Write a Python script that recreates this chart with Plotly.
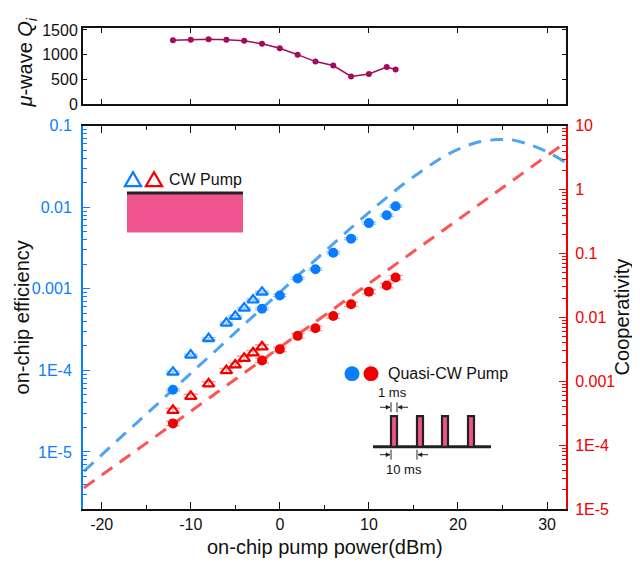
import plotly.graph_objects as go

# ---------------- data ----------------
qi_power = [-12, -10, -8, -6, -4, -2, 0, 2, 4, 6, 8, 10, 12, 13]
qi_values = [1290, 1300, 1310, 1300, 1280, 1220, 1130, 1000, 860, 780, 560, 610, 750, 700]

cw_power = [-12, -10, -8, -6, -5, -4, -3, -2]
cw_eff = [9.5e-5, 1.54e-4, 2.45e-4, 3.8e-4, 4.6e-4, 5.8e-4, 7.3e-4, 9.1e-4]
cw_coop = [3.5e-4, 5.8e-4, 9.1e-4, 1.47e-3, 1.8e-3, 2.28e-3, 2.79e-3, 3.45e-3]

qcw_power = [-12, -2, 0, 2, 4, 6, 8, 10, 12, 13]
qcw_eff = [5.8e-5, 5.7e-4, 8.3e-4, 1.34e-3, 1.74e-3, 2.77e-3, 4.13e-3, 6.4e-3, 8.0e-3, 1.03e-2]
qcw_coop = [2.19e-4, 2.11e-3, 3.17e-3, 5.14e-3, 6.76e-3, 1.05e-2, 1.61e-2, 2.53e-2, 3.16e-2, 4.2e-2]

# theory curves (dashed)
eff_fit_power = [-22, -19, -16, -13, -10, -7, -4, -1, 2, 5, 8, 11, 14, 16, 18, 20, 22, 24, 25, 26, 28, 30, 32]
eff_fit_values = [5.8e-6, 1.16e-5, 2.31e-5, 4.6e-5, 9.2e-5, 1.83e-4, 3.66e-4, 7.2e-4, 1.44e-3, 2.85e-3,
                  5.58e-3, 1.07e-2, 1.97e-2, 2.82e-2, 3.95e-2, 5.15e-2, 6.18e-2, 6.74e-2, 6.8e-2, 6.73e-2,
                  5.9e-2, 4.8e-2, 3.6e-2]
coop_fit_power = [-22, 32]
coop_fit_values = [2.14e-5, 5.37]

eff_tickvals = [1e-5, 1e-4, 1e-3, 1e-2, 1e-1]
eff_ticktext = ["1E-5", "1E-4", "0.001", "0.01", "0.1"]
coop_tickvals = [1e-5, 1e-4, 1e-3, 1e-2, 1e-1, 1, 10]
coop_ticktext = ["1E-5", "1E-4", "0.001", "0.01", "0.1", "1", "10"]

# ---------------- styling ----------------
OFF = 8  # page body margin
W, H = 640 - OFF, 565 - OFF
# plot area in window pixels: x 83..566, y 121(22)..509
ML, MT = 83 - OFF, 22 - OFF
MR = W - (566 - OFF)
MB = H - (509 - OFF)
PW, PH = W - ML - MR, H - MT - MB
FONT = "Liberation Sans, Arial, sans-serif"
BLUE = "#0a7cff"
RED = "#f00000"
BLUE_L = "rgba(60,150,255,0.55)"
RED_L = "rgba(255,70,70,0.55)"
PINK = "#f0548f"
MAGENTA = "#a10c5f"
DARK = "#222222"


def xp(px):
    return (px - OFF - ML) / PW


def yp(py):
    return (H - MB - (py - OFF)) / PH


fig = go.Figure()

# top panel
fig.add_trace(go.Scatter(x=qi_power, y=qi_values, xaxis="x2", yaxis="y3", mode="lines+markers",
                         line=dict(color=MAGENTA, width=1.5),
                         marker=dict(color=MAGENTA, size=6), showlegend=False))

# theory curves
fig.add_trace(go.Scatter(x=eff_fit_power, y=eff_fit_values, mode="lines", xaxis="x", yaxis="y",
                         line=dict(color="#4fa3f7", width=3, dash="13px,9px", shape="spline"),
                         showlegend=False))
fig.add_trace(go.Scatter(x=coop_fit_power, y=coop_fit_values, mode="lines", xaxis="x", yaxis="y2",
                         line=dict(color="#ff5252", width=3, dash="13px,9px"), showlegend=False))

# data
fig.add_trace(go.Scatter(x=cw_power, y=cw_eff, mode="markers", xaxis="x", yaxis="y",
                         marker=dict(symbol="triangle-up-open", size=10, color=BLUE, line=dict(width=2.2)),
                         error_y=dict(type="percent", value=3, color=BLUE_L, thickness=1.3, width=7),
                         showlegend=False))
fig.add_trace(go.Scatter(x=qcw_power, y=qcw_eff, mode="markers", xaxis="x", yaxis="y",
                         marker=dict(symbol="circle", size=10, color=BLUE),
                         error_y=dict(type="percent", value=3, color=BLUE_L, thickness=1.3, width=7),
                         showlegend=False))
fig.add_trace(go.Scatter(x=cw_power, y=cw_coop, mode="markers", xaxis="x", yaxis="y2",
                         marker=dict(symbol="triangle-up-open", size=10, color=RED, line=dict(width=2.2)),
                         error_y=dict(type="percent", value=8, color=RED_L, thickness=1.3, width=7),
                         showlegend=False))
fig.add_trace(go.Scatter(x=qcw_power, y=qcw_coop, mode="markers", xaxis="x", yaxis="y2",
                         marker=dict(symbol="circle", size=10, color=RED),
                         error_y=dict(type="percent", value=8, color=RED_L, thickness=1.3, width=7),
                         showlegend=False))

shapes = []
# CW legend
for cx, col in [(133, BLUE), (154, RED)]:
    path = f"M {xp(cx-8)},{yp(182)} L {xp(cx+8)},{yp(182)} L {xp(cx)},{yp(168)} Z"
    shapes.append(dict(type="path", xref="paper", yref="paper", path=path,
                       line=dict(color=col, width=2.3)))
shapes.append(dict(type="rect", xref="paper", yref="paper", x0=xp(127), x1=xp(243), y0=yp(229), y1=yp(189),
                   fillcolor=PINK, line=dict(width=0)))
shapes.append(dict(type="line", xref="paper", yref="paper", x0=xp(127), x1=xp(243), y0=yp(189), y1=yp(189),
                   line=dict(color=DARK, width=3)))
# Quasi-CW legend
for cx, col in [(352, BLUE), (371, RED)]:
    shapes.append(dict(type="circle", xref="paper", yref="paper", x0=xp(cx-7.5), x1=xp(cx+7.5),
                       y0=yp(379.5), y1=yp(364.5), fillcolor=col, line=dict(width=0)))
# pulse diagram
shapes.append(dict(type="line", xref="paper", yref="paper", x0=xp(373), x1=xp(491), y0=yp(446), y1=yp(446),
                   line=dict(color=DARK, width=3)))
for x0 in [391, 417, 442, 468]:
    shapes.append(dict(type="rect", xref="paper", yref="paper", x0=xp(x0), x1=xp(x0+6), y0=yp(446), y1=yp(415),
                       fillcolor=PINK, line=dict(color=DARK, width=2.2)))
# dimension markers: bar + arrow
for bx, yc, direction in [(391, 406, -1), (397, 406, 1), (391, 454, -1), (417, 454, 1)]:
    shapes.append(dict(type="line", xref="paper", yref="paper", x0=xp(bx), x1=xp(bx), y0=yp(yc-5), y1=yp(yc+5),
                       line=dict(color=DARK, width=1)))
    tip = bx + direction * 1
    tail = bx + direction * 11
    shapes.append(dict(type="line", xref="paper", yref="paper", x0=xp(tail), x1=xp(tip), y0=yp(yc), y1=yp(yc),
                       line=dict(color=DARK, width=1)))
    back = tip + direction * 4
    path = f"M {xp(tip)},{yp(yc)} L {xp(back)},{yp(yc-2)} L {xp(back)},{yp(yc+2)} Z"
    shapes.append(dict(type="path", xref="paper", yref="paper", path=path, fillcolor=DARK,
                       line=dict(color=DARK, width=0.5)))

annotations = [
    dict(x=xp(167), y=yp(175), text="CW Pump", xanchor="left", yanchor="middle",
         font=dict(size=16, color="#111111")),
    dict(x=xp(386), y=yp(372), text="Quasi-CW Pump", xanchor="left", yanchor="middle",
         font=dict(size=16, color="#111111")),
    dict(x=xp(392.5), y=yp(391), text="1 ms", xanchor="center", yanchor="middle",
         font=dict(size=13, color="#111111")),
    dict(x=xp(403.5), y=yp(469), text="10 ms", xanchor="center", yanchor="middle",
         font=dict(size=13, color="#111111")),
    dict(x=xp(22), y=yp(315), text="on-chip efficiency", textangle=-90, xanchor="center", yanchor="middle",
         font=dict(size=20, color="#111111")),
    dict(x=xp(622), y=yp(315), text="Cooperativity", textangle=-90, xanchor="center", yanchor="middle",
         font=dict(size=20, color="#111111")),
    dict(x=xp(325), y=yp(547), text="on-chip pump power(dBm)", xanchor="center", yanchor="middle",
         font=dict(size=20, color="#111111")),
    dict(x=xp(27), y=yp(57), text="<i>μ</i>-wave <i>Q<sub>i</sub></i>", textangle=-90,
         xanchor="center", yanchor="middle", font=dict(size=20, color="#111111")),
]
for a in annotations:
    a["xref"] = "paper"
    a["yref"] = "paper"
    a["showarrow"] = False

main_top = yp(121)
fig.update_layout(
    width=W, height=H, margin=dict(l=ML, r=MR, t=MT, b=MB),
    plot_bgcolor="white", paper_bgcolor="white",
    font=dict(family=FONT, size=16, color="#111111"),
    showlegend=False,
    xaxis=dict(domain=[0, 1], range=[-22.1, 32.13], showgrid=False, zeroline=False,
               showline=True, linecolor="#111111", linewidth=2, mirror="ticks",
               ticks="inside", ticklen=7, tickwidth=1.3, tickcolor="#111111",
               tickvals=[-20, -10, 0, 10, 20, 30], ticktext=["-20", "-10", "0", "10", "20", "30"],
               minor=dict(ticks="inside", ticklen=4, tickcolor="#111111", dtick=5, tick0=0, showgrid=False),
               tickfont=dict(size=16, color="#111111"), anchor="y"),
    yaxis=dict(domain=[0, main_top], type="log", range=[-5.70, -1.0], showgrid=False, zeroline=False,
               showline=True, linecolor=BLUE, linewidth=2,
               ticks="inside", ticklen=7, tickwidth=1.3, tickcolor=BLUE,
               tickvals=eff_tickvals, ticktext=eff_ticktext,
               minor=dict(ticks="inside", ticklen=4, tickcolor=BLUE, dtick="D1", showgrid=False),
               tickfont=dict(size=16, color=BLUE), ticklabelstandoff=6, anchor="x"),
    yaxis2=dict(overlaying="y", side="right", type="log", range=[-5, 1], showgrid=False, zeroline=False,
                showline=True, linecolor=RED, linewidth=2,
                ticks="inside", ticklen=7, tickwidth=1.3, tickcolor=RED,
                tickvals=coop_tickvals, ticktext=coop_ticktext,
                minor=dict(ticks="inside", ticklen=4, tickcolor=RED, dtick="D1", showgrid=False),
                tickfont=dict(size=16, color=RED), ticklabelstandoff=4, anchor="x"),
    xaxis2=dict(domain=[0, 1], range=[-22.1, 32.13], showgrid=False, zeroline=False,
                showline=True, linecolor="#111111", linewidth=2, mirror="ticks",
                ticks="inside", ticklen=5, tickwidth=1.3, tickcolor="#111111",
                tickvals=[-20, -10, 0, 10, 20, 30], showticklabels=False, anchor="y3"),
    yaxis3=dict(domain=[yp(99), 1.0], range=[0, 1540], showgrid=False, zeroline=False,
                showline=True, linecolor="#111111", linewidth=2, mirror="ticks",
                ticks="inside", ticklen=4, tickwidth=1, tickcolor="#111111",
                tickvals=[0, 500, 1000, 1500], ticktext=["0", "500", "1000", "1500"],
                tickfont=dict(size=16, color="#111111"), anchor="x2"),
    shapes=shapes,
    annotations=annotations,
)

fig.write_html("out.html")
